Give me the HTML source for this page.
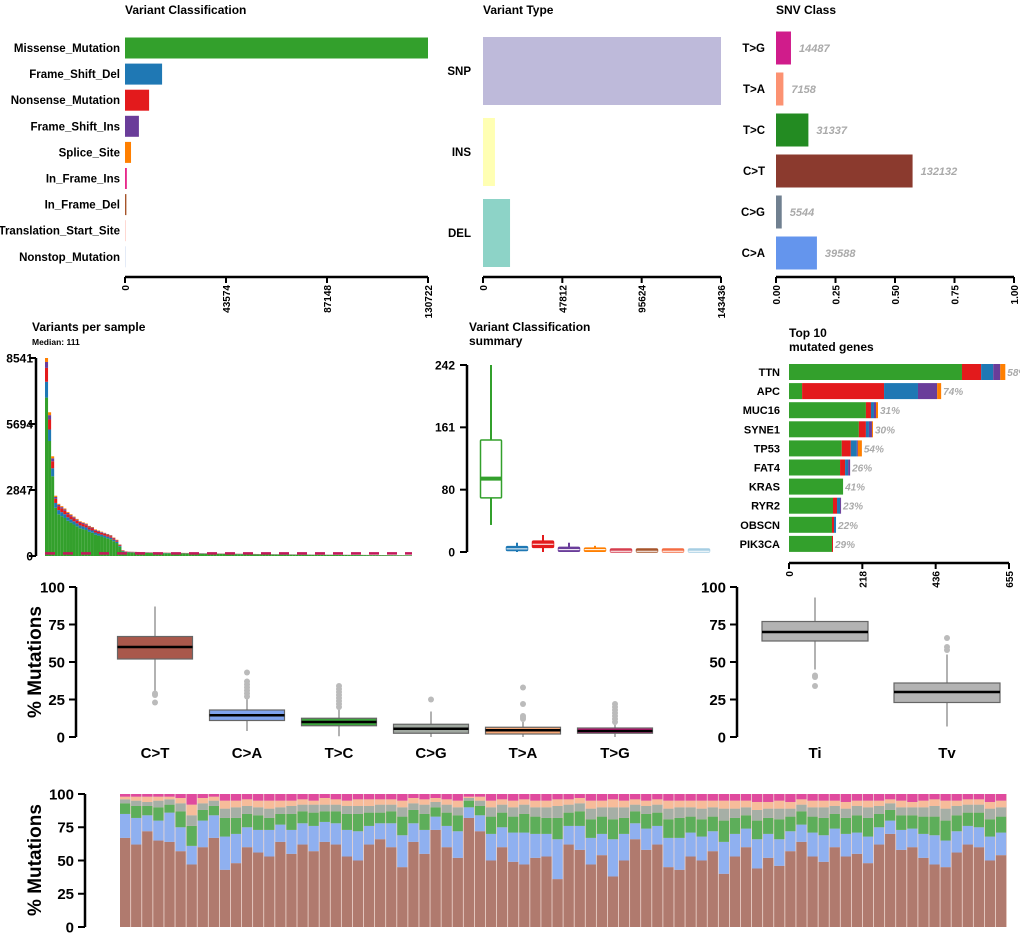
<!DOCTYPE html>
<html><head><meta charset="utf-8"><style>
html,body{margin:0;padding:0;background:#fff;}
svg{display:block;font-family:"Liberation Sans",Arial,sans-serif;font-weight:bold;}
</style></head><body>
<svg id="c" width="1020" height="937" viewBox="0 0 1020 937" xmlns="http://www.w3.org/2000/svg"></svg>
<script>
// ---------- data ----------
const vcCats=["Missense_Mutation","Frame_Shift_Del","Nonsense_Mutation","Frame_Shift_Ins","Splice_Site","In_Frame_Ins","In_Frame_Del","Translation_Start_Site","Nonstop_Mutation"];
const vcVals=[130722,16000,10400,6000,2600,800,600,250,100];
const vcTicks=["0","43574","87148","130722"];
const vtCats=["SNP","INS","DEL"];
const vtVals=[143436,7200,16300];
const vtTicks=["0","47812","95624","143436"];
const snvCats=["T>G","T>A","T>C","C>T","C>G","C>A"];
const snvCounts=[14487,7158,31337,132132,5544,39588];
const snvTicks=["0.00","0.25","0.50","0.75","1.00"];
const vpsTicks=["0","2847","5694","8541"];
const vpsTotals=[8541,6200,4300,2600,2250,2150,2050,1900,1800,1700,1600,1500,1450,1400,1300,1250,1150,1100,1050,1000,950,900,800,700,500,250,200,190,185,180,175,170,168,165,160,158,155,152,150,148,145,142,140,138,136,134,132,130,128,126,124,122,120,118,116,114,112,111,110,108,106,104,102,100,98,96,94,92,90,88,86,84,82,80,78,77,76,75,74,73,72,71,70,69,68,67,66,65,64,63,62,61,60,59,58,57,56,55,54,53,52,51,50,49,48,47,46,45,44,43,42,41,40,39,38,37,36,35,34,33];
const vpsFrac=[0.80,0.08,0.07,0.03,0.02];
const vpsMedian=111;
const sumTicks=["0","80","161","242"];
const sumStats=[[35,70,95,145,242],[0,2,4,7,12],[0,6,10,14,22],[0,1,3,6,12],[0,1,3,5,8],[0,0,1,2,3],[0,0,1,2,3],[0,0,1,2,3],[0,0,1,2,3]];
const genes=["TTN","APC","MUC16","SYNE1","TP53","FAT4","KRAS","RYR2","OBSCN","PIK3CA"];
const gGreen=[515,39,229,208,157,152,161,131,128,128];
const gRed=[57,244,15,21,27,15,0,12,6,3];
const gBlue=[36,101,9,9,18,9,0,9,6,0];
const gPurple=[21,57,6,9,3,6,0,3,0,0];
const gOrange=[15,12,6,3,12,0,0,0,0,0];
const gPct=["58%","74%","31%","30%","54%","26%","41%","23%","22%","29%"];
const topTicks=["0","218","436","655"];
const pctTicks=["0","25","50","75","100"];
const bxCats=["C>T","C>A","T>C","C>G","T>A","T>G"];
const bxStats=[[30,52,60,67,87],[4,11,14.5,18,26],[0.5,7.5,10,12.5,19],[0,2.5,5.5,8.5,17],[0,2,4.5,6.5,10],[0,2.5,4,6,9]];
const bxOut=[[29,28,23],[27,29,31,33,35,37,43],[20,22,24,26,28,30,32,34],[25],[12,13,14,22,33],[10,12,14,16,18,20,22]];
const titvCats=["Ti","Tv"];
const titvStats=[[45,64,70,77,93],[7,23,30,36,55]];
const titvOut=[[41,40,34],[58,60,66]];
const sCT=[67,62,72,65,64,57,47,60,67,43,48,60,56,53,64,55,62,57,64,62,53,50,62,66,60,45,64,55,73,60,52,82,72,50,60,49,47,52,53,36,62,58,47,54,38,50,66,58,62,45,43,53,50,57,40,53,60,44,52,46,57,64,53,49,60,53,55,48,62,70,58,60,52,47,45,56,62,60,50,54];
const sCA=[18,20,12,15,22,18,14,20,17,25,22,15,17,20,13,18,16,19,15,16,20,22,14,12,18,24,14,18,10,16,20,8,12,20,15,22,24,18,17,30,14,18,20,16,28,20,12,16,14,22,24,18,18,15,24,17,14,22,18,20,15,13,18,20,14,17,16,20,13,10,15,14,18,22,20,16,14,15,18,17];
const sTC=[8,9,7,10,6,12,15,8,7,14,12,10,11,9,8,12,9,10,8,9,12,13,10,8,9,14,10,12,7,10,12,5,7,13,11,12,14,13,12,16,10,11,14,13,15,12,9,11,10,14,15,12,13,11,16,12,10,14,12,15,11,10,12,13,11,12,13,14,10,8,11,10,13,14,15,12,10,11,13,12];
const sCG=[3,4,3,5,4,6,8,5,4,7,8,6,6,7,5,6,5,6,5,5,6,6,5,6,5,7,5,7,4,6,6,2,4,7,6,7,7,7,8,9,6,6,8,7,9,8,5,6,6,8,8,7,8,7,9,7,6,8,7,8,6,5,7,8,6,7,7,8,6,5,6,6,7,8,9,7,6,6,8,7];
const sTA=[2,3,4,3,2,4,8,4,3,6,5,5,5,6,5,4,4,3,5,4,4,5,5,4,4,5,4,4,3,4,5,1,3,5,4,5,4,5,5,5,4,4,6,5,6,5,4,4,4,6,5,5,6,5,6,6,5,6,5,6,5,4,5,5,4,5,4,5,4,3,5,4,5,5,6,4,4,4,5,5];

// ---------- helpers ----------
const NS="http://www.w3.org/2000/svg";
const svg=document.getElementById("c");
function add(tag,at,par){const e=document.createElementNS(NS,tag);for(const k in at)e.setAttribute(k,at[k]);(par||svg).appendChild(e);return e;}
function txt(s,x,y,at,par){const e=add("text",Object.assign({x:x,y:y},at||{}),par);e.textContent=s;return e;}
const vcCol=["#33A02C","#1F78B4","#E31A1C","#6A3D9A","#FF7F00","#E7298A","#A6542A","#FDD0C8","#DDE6F5"];
const vtCol=["#BEBADA","#FFFFB3","#8DD3C7"];
const snvCol=["#D01C8B","#FC9272","#238B22","#8B3A2E","#708090","#6495ED"];
const bxCol=["#A9584B","#7FA3EE","#3DA63D","#A0A8A0","#F7A877","#D0197F"];
const sumCol=["#33A02C","#1F78B4","#E31A1C","#6A3D9A","#FF7F00","#D53E4F","#A6542A","#F46D43","#A6CEE3"];

function hAxis(x0,x1,y,labels,g,fs){
  const l=add("line",{x1:x0,x2:x1,y1:y,y2:y,stroke:"#000","stroke-width":2.5},g);
  
  
  labels.forEach((s,i)=>{const x=x0+(x1-x0)*i/(labels.length-1);
    add("line",{x1:x,x2:x,y1:y,y2:y+6,stroke:"#000","stroke-width":2},g);
    const t=txt(s,0,0,{transform:"translate("+(x+4)+","+(y+8)+") rotate(-90)","text-anchor":"end","font-size":10},g);
    
    });
}
function vAxis(x,yTop,yBot,labels,g,fs,dx){
  const l=add("line",{x1:x,x2:x,y1:yTop,y2:yBot,stroke:"#000","stroke-width":2.5},g);
  
  
  labels.forEach((s,i)=>{const y=yBot-(yBot-yTop)*i/(labels.length-1);
    add("line",{x1:x-7,x2:x,y1:y,y2:y,stroke:"#000","stroke-width":2},g);
    const t=txt(s,x-(dx||10),y+fs*0.36,{"text-anchor":"end","font-size":fs},g);
    
    });
}

// ---------- Variant Classification ----------
(function(){
  const g=add("g",{});
  
  
  const t=txt("Variant Classification",125,14,{"font-size":12},g);
  
  
  const x0=125,x1=428,max=130722;
  const sx=v=>x0+(x1-x0)*v/max;
  vcCats.forEach((c,i)=>{const cy=48+26.1*i;
    const r=add("rect",{x:x0,y:cy-10.5,width:Math.max(sx(vcVals[i])-x0,0.8),height:21,fill:vcCol[i]},g);
    
    
    const l=txt(c,120,cy+4,{"text-anchor":"end","font-size":11.5},g);
    
    });
  hAxis(x0,x1,277,vcTicks,g);
})();

// ---------- Variant Type ----------
(function(){
  const g=add("g",{});
  
  
  const t=txt("Variant Type",483,14,{"font-size":12},g);
  
  
  const x0=483,x1=721,max=143436;
  vtCats.forEach((c,i)=>{const cy=71+81*i;
    const r=add("rect",{x:x0,y:cy-34,width:(x1-x0)*vtVals[i]/max,height:68,fill:vtCol[i]},g);
    
    
    const l=txt(c,471,cy+4,{"text-anchor":"end","font-size":11.5},g);
    
    });
  hAxis(x0,x1,277,vtTicks,g);
})();

// ---------- SNV Class ----------
(function(){
  const g=add("g",{});
  
  
  const t=txt("SNV Class",776,14,{"font-size":12},g);
  
  
  const x0=776,x1=1014;
  const tot=snvCounts.reduce((a,b)=>a+b,0);
  snvCats.forEach((c,i)=>{const cy=48+41*i;const w=(x1-x0)*snvCounts[i]/tot;
    const r=add("rect",{x:x0,y:cy-16.5,width:w,height:33,fill:snvCol[i]},g);
    
    
    const l=txt(c,765,cy+4,{"text-anchor":"end","font-size":11.5},g);
    
    
    const v=txt(String(snvCounts[i]),x0+w+8,cy+4,{"font-size":11,"font-style":"italic",fill:"#AAAAAA"},g);
    
    });
  hAxis(x0,x1,277,snvTicks,g);
})();

// ---------- Variants per sample ----------
(function(){
  const g=add("g",{});
  
  
  const t=txt("Variants per sample",32,331,{"font-size":12},g);
  
  
  const st=txt("Median: 111",32,345,{"font-size":8.5},g);
  
  
  const yTop=358,yBot=556,max=8541,x0=45,x1=412;
  const sy=v=>yBot-(yBot-yTop)*v/max;
  const bw=(x1-x0)/vpsTotals.length;
  const cols=["#33A02C","#1F78B4","#E31A1C","#6A3D9A","#FF7F00"];
  vpsTotals.forEach((v,i)=>{let acc=0;
    vpsFrac.forEach((f,k)=>{const a=v*f;const yA=sy(acc+a),yB=sy(acc);
      const r=add("rect",{x:x0+i*bw,y:yA,width:bw,height:Math.max(yB-yA,0),fill:cols[k]},g);
      
      
      acc+=a;});});
  const m=add("line",{x1:x0,x2:x1,y1:sy(vpsMedian),y2:sy(vpsMedian),stroke:"#C2185B","stroke-width":2.5,"stroke-dasharray":"10,8"},g);
  
  
  vAxis(36,yTop,yBot,vpsTicks,g,12,3);
})();

// ---------- Variant Classification summary ----------
(function(){
  const g=add("g",{});
  
  
  const t=txt("Variant Classification",469,331,{"font-size":12},g);
  
  
  const t2=txt("summary",469,345,{"font-size":12},g);
  
  
  const yTop=365,yBot=552,max=242;
  const sy=v=>yBot-(yBot-yTop)*v/max;
  sumStats.forEach((s,i)=>{const cx=491+26*i;const c=sumCol[i];
    const bg=add("g",{},g);
    
    
    add("line",{x1:cx,x2:cx,y1:sy(s[0]),y2:sy(s[1]),stroke:c,"stroke-width":2},bg);
    add("line",{x1:cx,x2:cx,y1:sy(s[3]),y2:sy(s[4]),stroke:c,"stroke-width":2},bg);
    const h=Math.max(sy(s[1])-sy(s[3]),3);
    add("rect",{x:cx-10.5,y:sy(s[3])-(h>3?0:1.5),width:21,height:h,fill:i==0?"#fff":c,stroke:c,"stroke-width":1.5,rx:1},bg);
    add("line",{x1:cx-10.5,x2:cx+10.5,y1:sy(s[2]),y2:sy(s[2]),stroke:i==0?c:"#fff","stroke-width":i==0?4:1},bg);});
  vAxis(467,yTop,yBot,sumTicks,g,12,12);
})();

// ---------- Top 10 genes ----------
(function(){
  const g=add("g",{});
  
  
  const t=txt("Top 10",789,337,{"font-size":12},g);
  
  
  const t2=txt("mutated genes",789,351,{"font-size":12},g);
  
  
  const x0=789,x1=1009,max=655;const k=(x1-x0)/max;
  const segs=[gGreen,gRed,gBlue,gPurple,gOrange];
  const cols=["#33A02C","#E31A1C","#1F78B4","#6A3D9A","#FF7F00"];
  genes.forEach((gn,i)=>{const cy=372+19.1*i;let acc=0;
    segs.forEach((arr,j)=>{if(arr[i]>0){
      const r=add("rect",{x:x0+acc*k,y:cy-8,width:arr[i]*k,height:16,fill:cols[j]},g);
      
      }
      acc+=arr[i];});
    const l=txt(gn,780,cy+4,{"text-anchor":"end","font-size":11},g);
    
    
    const p=txt(gPct[i],x0+acc*k+2,cy+4,{"font-size":10,"font-style":"italic",fill:"#AAAAAA"},g);
    
    });
  // clip overflow at right edge
  hAxis(x0,x1,563,topTicks,g);
})();

// ---------- boxplot helper ----------
function boxplot(g,cx,w,s,outs,col,sy){
  add("line",{x1:cx,x2:cx,y1:sy(s[0]),y2:sy(s[4]),stroke:"#666","stroke-width":1},g);
  add("rect",{x:cx-w/2,y:sy(s[3]),width:w,height:sy(s[1])-sy(s[3]),fill:col,stroke:"#666","stroke-width":1.2},g);
  add("line",{x1:cx-w/2,x2:cx+w/2,y1:sy(s[2]),y2:sy(s[2]),stroke:"#000","stroke-width":2.5},g);
  outs.forEach(o=>{add("circle",{cx:cx,cy:sy(o),r:3,fill:"#BBBBBB"},g);});
}

// ---------- SNV box plots ----------
(function(){
  const g=add("g",{});
  
  
  const yTop=587,yBot=737;const sy=v=>yBot-(yBot-yTop)*v/100;
  bxCats.forEach((c,i)=>{const cx=155+92*i;
    const bg=add("g",{},g);
    
    
    boxplot(bg,cx,75,bxStats[i],bxOut[i],bxCol[i],sy);
    const l=txt(c,cx,758,{"text-anchor":"middle","font-size":15},g);
    
    });
  vAxis(76,yTop,yBot,pctTicks,g,15,11);
  const yl=txt("% Mutations",0,0,{transform:"translate(41,662) rotate(-90)","text-anchor":"middle","font-size":19},g);
  
  
})();

// ---------- Ti/Tv ----------
(function(){
  const g=add("g",{});
  
  
  const yTop=587,yBot=737;const sy=v=>yBot-(yBot-yTop)*v/100;
  titvCats.forEach((c,i)=>{const cx=815+132*i;
    const bg=add("g",{},g);
    
    
    boxplot(bg,cx,106,titvStats[i],titvOut[i],"#B3B3B3",sy);
    const l=txt(c,cx,758,{"text-anchor":"middle","font-size":15},g);
    
    });
  vAxis(737,yTop,yBot,pctTicks,g,15,11);
})();

// ---------- per-sample composition ----------
(function(){
  const g=add("g",{});
  
  
  const yTop=794,yBot=927;const sy=v=>yBot-(yBot-yTop)*v/100;
  const x0=120,x1=1007;const bw=(x1-x0)/sCT.length;
  const cols=["#B07A6E","#8FB0F0","#5DAE5A","#A6AFA6","#F7BC9A","#E04A9E"];
  add("rect",{x:x0,y:yTop,width:x1-x0,height:yBot-yTop,fill:"#F0D8D0"},g);
  sCT.forEach((v,i)=>{const parts=[v,sCA[i],sTC[i],sCG[i],sTA[i]];
    parts.push(Math.max(100-parts.reduce((a,b)=>a+b,0),0));let acc=0;
    parts.forEach((p,k)=>{const yA=sy(acc+p),yB=sy(acc);
      const r=add("rect",{x:x0+i*bw,y:yA,width:bw-0.8,height:Math.max(yB-yA,0),fill:cols[k]},g);
      
      
      acc+=p;});});
  vAxis(85,yTop,yBot,pctTicks,g,15,11);
  const yl=txt("% Mutations",0,0,{transform:"translate(41,860) rotate(-90)","text-anchor":"middle","font-size":19},g);
  
  
})();
</script>
</body></html>
